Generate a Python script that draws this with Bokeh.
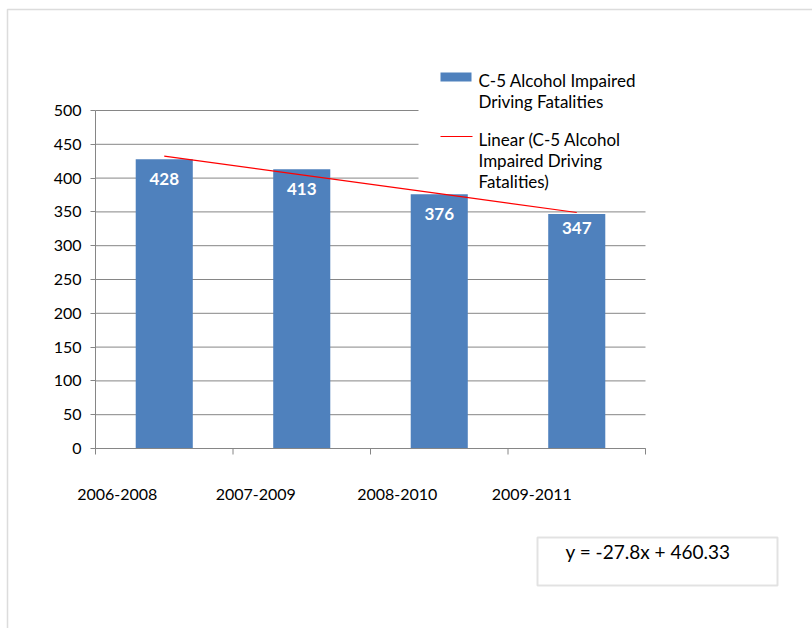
from bokeh.plotting import figure
from bokeh.models import (ColumnDataSource, Range1d, FixedTicker, Label,
                          BoxAnnotation, CustomJSTickFormatter)
from bokeh.core.properties import value
from bokeh.embed import file_html
from bokeh.resources import INLINE

# Data
periods = ["2006-2008", "2007-2009", "2008-2010", "2009-2011"]
fatalities = [428, 413, 376, 347]
trend_slope = -27.8
trend_intercept = 460.33
y_ticks = [0, 50, 100, 150, 200, 250, 300, 350, 400, 450, 500]
legend_bar_text = ["C-5 Alcohol Impaired", "Driving Fatalities"]
legend_trend_text = ["Linear (C-5 Alcohol", "Impaired Driving", "Fatalities)"]

FONT = "Lato"
BAR_COLOR = "#4F81BD"
GRID = "#868686"

W, H = 812, 628
# chart area in canvas pixels: value axis at FL, last boundary at FR,
# 500 at FT and 0 at FB
FL, FR, FT, FB = 95, 645, 110, 448
N = len(periods)
YMAX = 500

positions = list(range(1, N + 1))
boundaries = [i + 0.5 for i in range(N + 1)]
trend = [trend_slope * x + trend_intercept for x in positions]

PX_X = (FR - FL) / N          # pixels per category
PX_Y = (FB - FT) / YMAX       # pixels per unit


def dx(px):
    return 0.5 + (px - FL) / PX_X


def dy(py):
    return (FB - py) / PX_Y


# the frame covers the whole canvas; ranges place the chart area inside it
p = figure(width=W, height=H, output_backend="svg", toolbar_location=None,
           x_range=Range1d(dx(0), dx(W)), y_range=Range1d(dy(H), dy(0)),
           min_border=0, min_border_left=0, min_border_right=0,
           min_border_top=0, min_border_bottom=0)
p.title.visible = False
p.outline_line_color = None
p.background_fill_color = "white"
p.border_fill_color = "white"
p.grid.visible = False

# horizontal gridlines over the chart area
p.segment(x0=[0.5] * len(y_ticks), x1=[N + 0.5] * len(y_ticks),
          y0=y_ticks, y1=y_ticks, line_color=GRID, line_width=1)

src = ColumnDataSource(dict(x=positions, y=fatalities,
                            lbl=[str(v) for v in fatalities],
                            off=[20, 20, 20, 14]))
p.vbar(x="x", top="y", width=0.415, bottom=0, source=src,
       fill_color=BAR_COLOR, line_color=None)
p.text(x="x", y="y", text="lbl", y_offset="off", source=src,
       text_color="white", text_font=value(FONT), text_font_style="bold",
       text_font_size="17px", text_align="center", text_baseline="middle")

# value axis
p.yaxis.fixed_location = 0.5
p.yaxis.bounds = (0, YMAX)
p.yaxis.ticker = FixedTicker(ticks=y_ticks)
p.yaxis.axis_line_color = GRID
p.yaxis.major_tick_line_color = GRID
p.yaxis.major_tick_in = 0
p.yaxis.major_tick_out = 5
p.yaxis.minor_tick_line_color = None
p.yaxis.major_label_text_font = FONT
p.yaxis.major_label_text_font_size = "16px"
p.yaxis.major_label_text_color = "black"
p.yaxis.major_label_standoff = 9

# category axis: labels sit left of the bar centres
label_shift = [-47, -46, -42, -45]
p.xaxis.fixed_location = 0
p.xaxis.bounds = (0.5, N + 0.5)
p.xaxis.ticker = FixedTicker(ticks=[x + s / PX_X
                                    for x, s in zip(positions, label_shift)])
p.xaxis.formatter = CustomJSTickFormatter(args=dict(names=periods),
                                          code="return names[index]")
p.xaxis.axis_line_color = GRID
p.xaxis.major_tick_line_color = None
p.xaxis.major_tick_in = 0
p.xaxis.major_tick_out = 0
p.xaxis.minor_tick_line_color = None
p.xaxis.major_label_text_font = FONT
p.xaxis.major_label_text_font_size = "16px"
p.xaxis.major_label_text_color = "black"
p.xaxis.major_label_standoff = 40

# category boundary tick marks
p.segment(x0=boundaries, x1=boundaries, y0=[0] * len(boundaries),
          y1=[-6 / PX_Y] * len(boundaries), line_color=GRID, line_width=1)

# outer frame
p.add_layout(BoxAnnotation(left=dx(7), right=dx(W + 50), top=dy(9),
                           bottom=dy(H + 50), fill_alpha=0,
                           line_color="#8c8c8c", line_width=1.5))

# legend panel (white, hides the gridlines behind it)
p.add_layout(BoxAnnotation(left=dx(418), right=dx(700), top=dy(58),
                           bottom=dy(187), fill_color="white", fill_alpha=1,
                           line_color=None))
p.add_layout(BoxAnnotation(left=dx(440), right=dx(471), top=dy(72),
                           bottom=dy(81), fill_color=BAR_COLOR, fill_alpha=1,
                           line_color=None))

# trend line drawn over the legend panel
p.line(positions, trend, line_color="#FF0000", line_width=1.2,
       level="overlay")
p.segment(x0=[dx(440)], x1=[dx(472)], y0=[dy(136)], y1=[dy(136)],
          line_color="#FF0000", line_width=1.2, level="overlay")

legend_rows = list(zip(legend_bar_text, [80, 101])) + \
    list(zip(legend_trend_text, [139, 160, 181]))
for txt, py in legend_rows:
    p.add_layout(Label(x=dx(478), y=dy(py), text=txt, text_font=FONT,
                       text_font_size="17px", text_baseline="middle",
                       text_color="black"))

# trend equation box
p.add_layout(BoxAnnotation(left=dx(537), right=dx(777), top=dy(537),
                           bottom=dy(585), fill_alpha=0,
                           line_color="#a0a0a0", line_width=2))
p.add_layout(Label(x=dx(565), y=dy(551),
                   text=f"y = {trend_slope}x + {trend_intercept}",
                   text_font=FONT, text_font_size="19px",
                   text_baseline="middle", text_color="black"))

open("out.html", "w").write(file_html(p, INLINE))
